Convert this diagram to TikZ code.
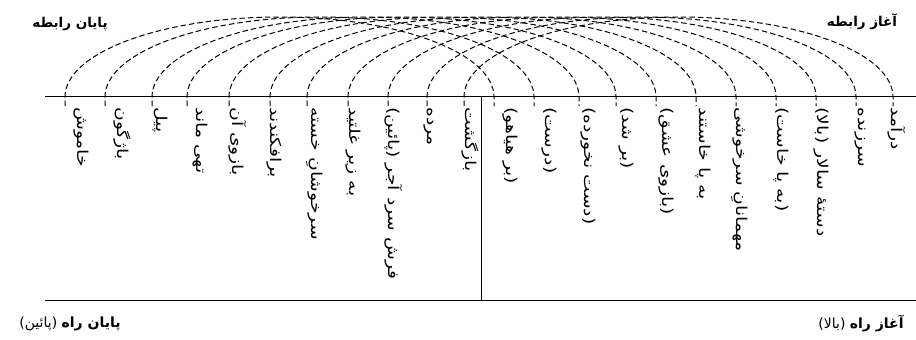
\documentclass[tikz,border=0pt]{standalone}
\usepackage{fontspec}
\newfontfamily\fa[Script=Arabic]{DejaVu Sans}
\TeXXeTstate=1
\begin{document}
\begin{tikzpicture}[x=1pt,y=-1pt,
  lbl/.style={rotate=-90, xscale=1.25, anchor=west, inner sep=0pt, font=\fa\fontsize{15}{17}\selectfont},
  arcline/.style={dash pattern=on 5.5pt off 3pt, line width=1pt},
  axisline/.style={line width=1pt},
  head/.style={inner sep=0pt, font=\fa\bfseries\fontsize{13.5}{16}\selectfont},
  foot/.style={inner sep=0pt, font=\fa\fontsize{14}{16}\selectfont}]
\useasboundingbox (0,0) rectangle (916,340);
% axes
\coordinate (tl) at (45,96);
\coordinate (tr) at (916,96);
\coordinate (bl) at (45,300);
\coordinate (br) at (916,300);
\coordinate (vt) at (481,96);
\coordinate (vb) at (481,300);
\draw[axisline] (tl) -- (tr);
\draw[axisline] (bl) -- (br);
\draw[axisline] (vt) -- (vb);
% arcs
\foreach \i/\l/\r in {1/65/494,2/105/534,3/152/579,4/187/616,5/229/656,6/270/696,7/307/736,8/348/776,9/388/816,10/427/856,11/464/893}{
  \pgfmathsetmacro\rx{(\r-\l)/2}
  \coordinate (L\i) at (\l,106);
  \coordinate (R\i) at (\r,106);
  \draw[arcline] (L\i) -- ++(0,-9) arc[start angle=180, end angle=0, x radius=\rx pt, y radius=80pt] -- (R\i);
}
% labels
\foreach \i/\x/\t in {1/81/خاموش,2/122/باژگون,3/160/پیل,4/200/تهی ماند,5/238/بازوی آن,6/274/برافکندند,7/315/سرخوشانِ خسته,8/353/به زیر غلتید,9/394/فرش سرد آجر (پائین),10/429/مرده,11/470/بازگشت,12/510/(بر هیاهو),13/549/(درست),14/588/(دست نخورده),15/626/(بر شد),16/666/(بازوی عشق),17/703/به پا خاستند,18/740/مهمانانِ سرخوشی,19/781/(به پا خاست),20/821/دستهٔ سالار (بالا),21/860/سرزنده,22/897/درآمد}{
  \node[lbl] (w\i) at (\x,107) {\beginR\t\endR};
}
% headings
\node[head] (endrel) at (70,24) {\beginR پایان رابطه\endR};
\node[head] (startrel) at (862,22) {\beginR آغاز رابطه\endR};
\node[foot] (endway) at (70,324) {\beginR{\bfseries پایان راه} (پائین)\endR};
\node[foot] (startway) at (861,324) {\beginR{\bfseries آغاز راه} (بالا)\endR};
\end{tikzpicture}
\end{document}
